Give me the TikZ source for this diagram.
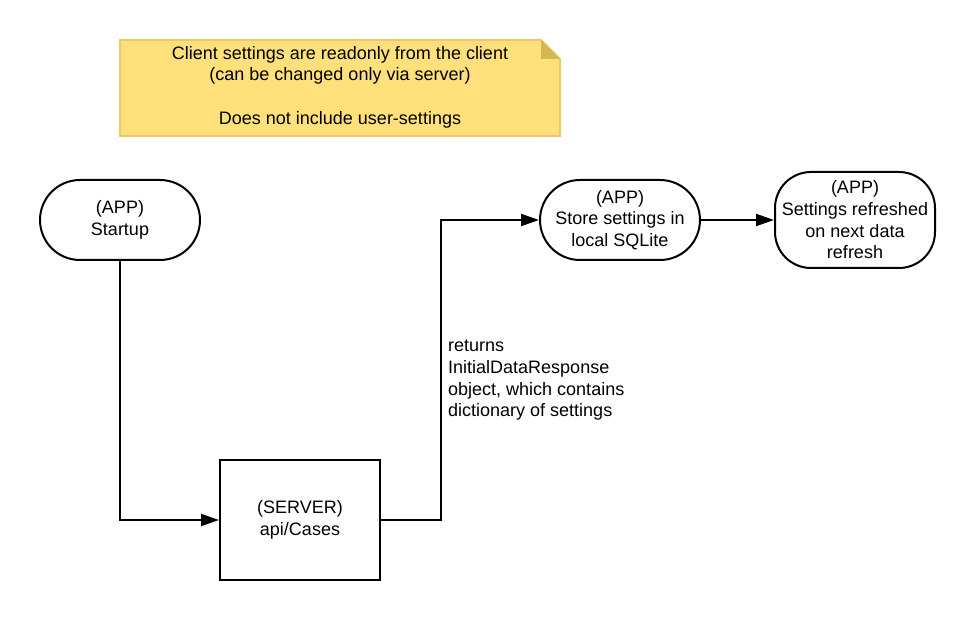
\documentclass[tikz,border=0pt]{standalone}
\usepackage{fontspec}
\setmainfont{Liberation Sans}
\usetikzlibrary{arrows.meta}
\definecolor{notefill}{HTML}{FFE07A}
\definecolor{noteline}{HTML}{E8CA6C}
\definecolor{notefold}{HTML}{D6B852}
\begin{document}
\begin{tikzpicture}[x=1pt,y=-1pt,font=\fontsize{18}{21.7}\selectfont,
    appstep/.style={draw,line width=2pt,rounded corners=40pt,minimum width=160pt,minimum height=80pt,align=center,inner sep=2pt},
    serverstep/.style={draw,line width=2pt,minimum width=160pt,minimum height=120pt,align=center},
    flow/.style={line width=2pt,-{Triangle[length=18pt,width=12pt]}}]
        \useasboundingbox (0,0) rectangle (975,620);
        % note
        \filldraw[fill=notefill,draw=noteline,line width=2pt] (120,40) -- (541,40) -- (560,59) -- (560,136) -- (120,136) -- cycle;
        \fill[notefold] (541,40) -- (560,59) -- (541,59) -- cycle;
        \node[align=center] (note) at (340,87) {Client settings are readonly from the client\\(can be changed only via server)\\[21.7pt]Does not include user-settings};
        % steps
        \node[appstep] (start) at (120,220) {(APP)\\Startup};
        \node[serverstep] (server) at (300,520) {(SERVER)\\api/Cases};
        \node[appstep] (store) at (620,220) {(APP)\\Store settings in\\local SQLite};
        \node[appstep,minimum height=96pt,rounded corners=36pt] (refresh) at (855,220) {(APP)\\Settings refreshed\\on next data\\refresh};
        \draw[flow] (start.south) |- (server.west);
        \draw[flow] (server.east) -- ++(60,0) coordinate (turn) |- (store.west);
        \draw[flow] (store.east) -- (refresh.west);
        \node[align=left,anchor=north west,inner sep=0pt] (returns) at (448,340) {returns\\InitialDataResponse\\object, which contains\\dictionary of settings};
\end{tikzpicture}
\end{document}
